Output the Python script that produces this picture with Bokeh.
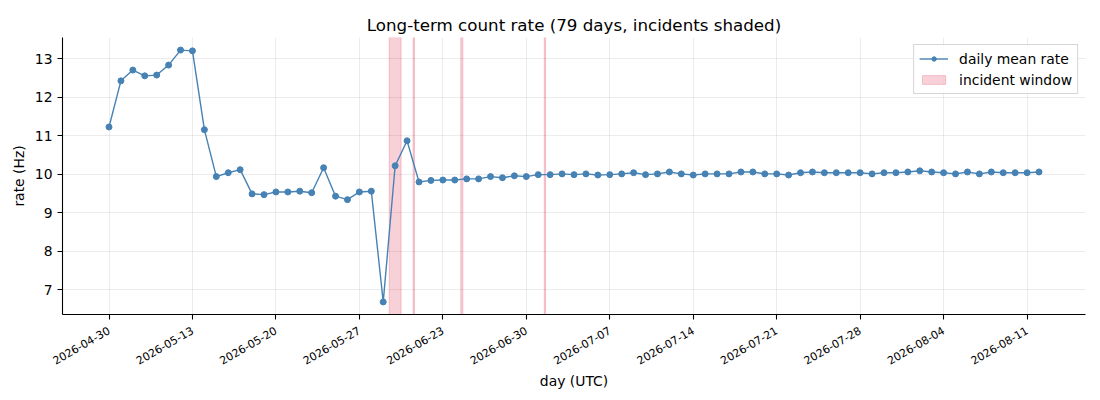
import math
from bokeh.plotting import figure
from bokeh.models import Range1d, FixedTicker, Legend, LegendItem
from bokeh.embed import file_html
from bokeh.resources import INLINE

# ---- data ----
rate = [11.23, 12.43, 12.71, 12.56, 12.58, 12.84, 13.23, 13.21, 11.16, 9.94,
        10.04, 10.12, 9.49, 9.47, 9.54, 9.54, 9.56, 9.52, 10.17, 9.43,
        9.34, 9.54, 9.56, 6.68, 10.22, 10.87, 9.80,
        9.84, 9.85, 9.85, 9.88, 9.88, 9.94, 9.91, 9.96, 9.94, 9.99, 9.99, 10.01, 9.99,
        10.01, 9.98, 9.99, 10.01, 10.04, 9.99, 10.01, 10.06, 10.01, 9.98,
        10.01, 10.01, 10.01, 10.06, 10.06, 10.01, 10.01, 9.98, 10.04, 10.06,
        10.04, 10.04, 10.04, 10.04, 10.01, 10.04, 10.04, 10.06, 10.09, 10.06,
        10.04, 10.01, 10.06, 10.01, 10.06, 10.04, 10.04, 10.04, 10.06]
day_index = list(range(len(rate)))

tick_positions = [0, 7, 14, 21, 28, 35, 42, 49, 56, 63, 70, 77]
tick_labels = ["2026-04-30", "2026-05-13", "2026-05-20", "2026-05-27", "2026-06-23",
               "2026-06-30", "2026-07-07", "2026-07-14", "2026-07-21", "2026-07-28",
               "2026-08-04", "2026-08-11"]

incident_start = [23.5, 25.5, 29.5, 36.5]
incident_end = [24.5, 25.62, 29.68, 36.62]

y_ticks = [7, 8, 9, 10, 11, 12, 13]

# ---- ranges (matplotlib-like 5% margins) ----
n = len(rate)
xpad = 0.05 * (n - 1)
ymin, ymax = min(rate), max(rate)
ypad = 0.05 * (ymax - ymin)
y0, y1 = ymin - ypad, ymax + ypad

FONT = "DejaVu Sans"

p = figure(width=1092, height=392, output_backend="svg", toolbar_location=None,
           x_range=Range1d(-xpad, n - 1 + xpad), y_range=Range1d(y0, y1),
           title="Long-term count rate (79 days, incidents shaded)",
           min_border_left=62, min_border_right=7, min_border_top=37, min_border_bottom=77)

p.title.align = "center"
p.title.text_font = FONT
p.title.text_font_size = "16.7px"
p.title.text_font_style = "normal"
p.title.text_color = "black"
p.title.offset = 0
p.title.standoff = 6

p.outline_line_color = None
p.background_fill_color = "white"
p.border_fill_color = "white"

# incident windows
spans = p.quad(left=incident_start, right=incident_end,
               bottom=[y0] * len(incident_start), top=[y1] * len(incident_start),
               fill_color="crimson", fill_alpha=0.2,
               line_color="crimson", line_alpha=0.2, line_width=1)

line = p.line(day_index, rate, line_color="steelblue", line_width=1.4)
pts = p.scatter(day_index, rate, marker="circle", size=6,
                fill_color="steelblue", line_color="steelblue")

# axes
p.xaxis.ticker = FixedTicker(ticks=tick_positions)
p.xaxis.major_label_overrides = {t: l for t, l in zip(tick_positions, tick_labels)}
p.xaxis.major_label_orientation = math.pi / 6
p.yaxis.ticker = FixedTicker(ticks=y_ticks)

for ax in (p.xaxis[0], p.yaxis[0]):
    ax.axis_line_color = "black"
    ax.axis_line_width = 1.1
    ax.major_tick_line_color = "black"
    ax.major_tick_line_width = 1.1
    ax.major_tick_out = 5
    ax.major_tick_in = 0
    ax.minor_tick_line_color = None
    ax.major_label_text_font = FONT
    ax.major_label_text_color = "black"
    ax.axis_label_text_font = FONT
    ax.axis_label_text_font_style = "normal"
    ax.axis_label_text_font_size = "13.9px"
    ax.axis_label_text_color = "black"

p.xaxis.major_label_text_font_size = "11px"
p.xaxis.major_label_standoff = 10
p.xaxis.axis_label_standoff = 2
p.yaxis.major_label_text_font_size = "13.9px"
p.xaxis.axis_label = "day (UTC)"
p.yaxis.axis_label = "rate (Hz)"

p.xgrid.ticker = FixedTicker(ticks=tick_positions)
p.ygrid.ticker = FixedTicker(ticks=y_ticks)
p.grid.grid_line_color = "#b0b0b0"
p.grid.grid_line_alpha = 0.3
p.grid.grid_line_width = 0.8

legend = Legend(items=[
    LegendItem(label="daily mean rate", renderers=[line, pts]),
    LegendItem(label="incident window", renderers=[spans]),
], location="top_right")
legend.label_text_font = FONT
legend.label_text_font_size = "13.9px"
legend.label_text_color = "black"
legend.glyph_width = 29
legend.glyph_height = 11
legend.label_height = 17
legend.label_standoff = 11
legend.spacing = 4
legend.padding = 5
legend.margin = 7
legend.border_line_color = "#cccccc"
legend.border_line_alpha = 0.8
legend.background_fill_alpha = 0.8
p.add_layout(legend)

open("out.html", "w").write(file_html(p, INLINE))
